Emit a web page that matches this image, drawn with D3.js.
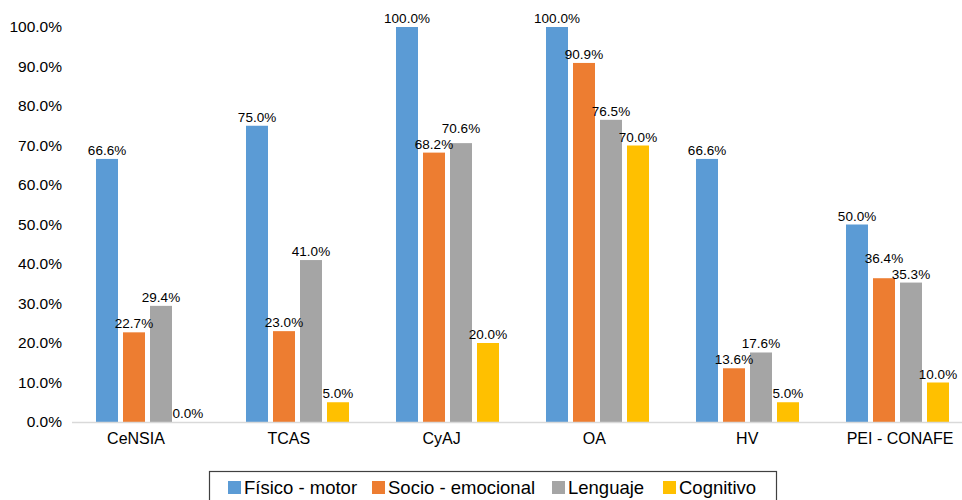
<!DOCTYPE html>
<html>
<head>
<meta charset="utf-8">
<script src="https://cdn.jsdelivr.net/npm/d3@7"></script>
<style>
  html, body { margin: 0; padding: 0; background: #fff; }
  svg { display: block; font-family: "Liberation Sans", Arial, Helvetica, sans-serif; }
</style>
</head>
<body>
<svg id="chart" width="962" height="500"></svg>
<script>
// Programas evaluados y áreas de desarrollo
const categories = ["CeNSIA", "TCAS", "CyAJ", "OA", "HV", "PEI - CONAFE"];
const seriesNames = ["Físico - motor", "Socio - emocional", "Lenguaje", "Cognitivo"];
const fisicoMotor     = [66.6, 75.0, 100.0, 100.0, 66.6, 50.0];
const socioEmocional  = [22.7, 23.0, 68.2, 90.9, 13.6, 36.4];
const lenguaje        = [29.4, 41.0, 70.6, 76.5, 17.6, 35.3];
const cognitivo       = [0.0, 5.0, 20.0, 70.0, 5.0, 10.0];
const yTicks = [0, 10, 20, 30, 40, 50, 60, 70, 80, 90, 100];
const colors = ["#5B9BD5", "#ED7D31", "#A5A5A5", "#FFC000"];

const seriesValues = [fisicoMotor, socioEmocional, lenguaje, cognitivo];

const svg = d3.select("#chart");

const y = d3.scaleLinear().domain([0, 100]).range([422, 27]);

const x0 = d3.scaleBand()
  .domain(categories)
  .range([72.5, 972.5])
  .paddingInner(0.3133)
  .paddingOuter(0.3133 / 2);

const x1 = d3.scaleBand()
  .domain(seriesNames)
  .range([0, x0.bandwidth()])
  .paddingInner(5 / 27);

// category labels run on their own slightly wider spacing
const labelX = d3.scalePoint().domain(categories).range([136, 900]);

const color = d3.scaleOrdinal().domain(seriesNames).range(colors);

// y axis labels (no axis line, no gridlines)
const yAxis = d3.axisLeft(y)
  .tickValues(yTicks)
  .tickFormat(d => d.toFixed(1) + "%")
  .tickSize(0)
  .tickPadding(0);
const gy = svg.append("g").attr("transform", "translate(62,0)").call(yAxis);
gy.select(".domain").remove();
gy.selectAll("text")
  .attr("font-family", "Liberation Sans, Arial, sans-serif")
  .attr("font-size", "15.5px")
  .attr("fill", "#000");

// bars
const groups = svg.append("g").selectAll("g")
  .data(categories)
  .join("g")
  .attr("transform", d => `translate(${x0(d)},0)`);

const rows = (cat, i) => seriesNames.map((s, k) => ({ cat, series: s, value: seriesValues[k][i] }));

groups.selectAll("rect")
  .data((d, i) => rows(d, i))
  .join("rect")
  .attr("x", d => x1(d.series))
  .attr("width", x1.bandwidth())
  .attr("y", d => y(d.value))
  .attr("height", d => y(0) - y(d.value))
  .attr("fill", d => color(d.series));

const valueLabels = groups.selectAll("text.val")
  .data((d, i) => rows(d, i))
  .join("text")
  .attr("class", "val")
  .attr("x", d => x1(d.series) + x1.bandwidth() / 2)
  .attr("y", d => y(d.value) - 4)
  .attr("text-anchor", "middle")
  .attr("font-size", "13.5px")
  .attr("fill", "#000")
  .text(d => d.value.toFixed(1) + "%");

// lift the taller bar's label above its neighbour when two labels collide
groups.each(function () {
  const labels = d3.select(this).selectAll("text.val").nodes();
  for (let i = 0; i < labels.length - 1; i++) {
    const a = labels[i], b = labels[i + 1];
    const wa = a.getComputedTextLength(), wb = b.getComputedTextLength();
    const xa = +a.getAttribute("x"), xb = +b.getAttribute("x");
    const ya = +a.getAttribute("y"), yb = +b.getAttribute("y");
    const overlapX = Math.abs(xa - xb) < (wa + wb) / 2;
    const overlapY = Math.abs(ya - yb) < 14;
    if (overlapX && overlapY) {
      const da = d3.select(a).datum().value, db = d3.select(b).datum().value;
      if (da >= db) a.setAttribute("y", yb - 16);
      else b.setAttribute("y", ya - 16);
    }
  }
});

// baseline
svg.append("line")
  .attr("x1", 72).attr("x2", 962)
  .attr("y1", y(0) + 0.5).attr("y2", y(0) + 0.5)
  .attr("stroke", "#D9D9D9")
  .attr("stroke-width", 1.5);

// category labels
svg.append("g").selectAll("text")
  .data(categories)
  .join("text")
  .attr("x", d => labelX(d))
  .attr("y", 444)
  .attr("text-anchor", "middle")
  .attr("font-size", "16px")
  .attr("fill", "#000")
  .text(d => d);

// legend
const legend = svg.append("g");
legend.append("rect")
  .attr("x", 209.5).attr("y", 471.5)
  .attr("width", 567).attr("height", 40)
  .attr("fill", "#fff")
  .attr("stroke", "#404040")
  .attr("stroke-width", 1.2);

const legendX = [228, 372, 552, 663];
const items = legend.selectAll("g.item")
  .data(seriesNames)
  .join("g")
  .attr("class", "item")
  .attr("transform", (d, i) => `translate(${legendX[i]},480)`);
items.append("rect")
  .attr("x", 0).attr("y", 1)
  .attr("width", 13).attr("height", 13)
  .attr("fill", d => color(d));
items.append("text")
  .attr("x", 16).attr("y", 14)
  .attr("font-size", "18.5px")
  .attr("fill", "#000")
  .text(d => d);
</script>
</body>
</html>
